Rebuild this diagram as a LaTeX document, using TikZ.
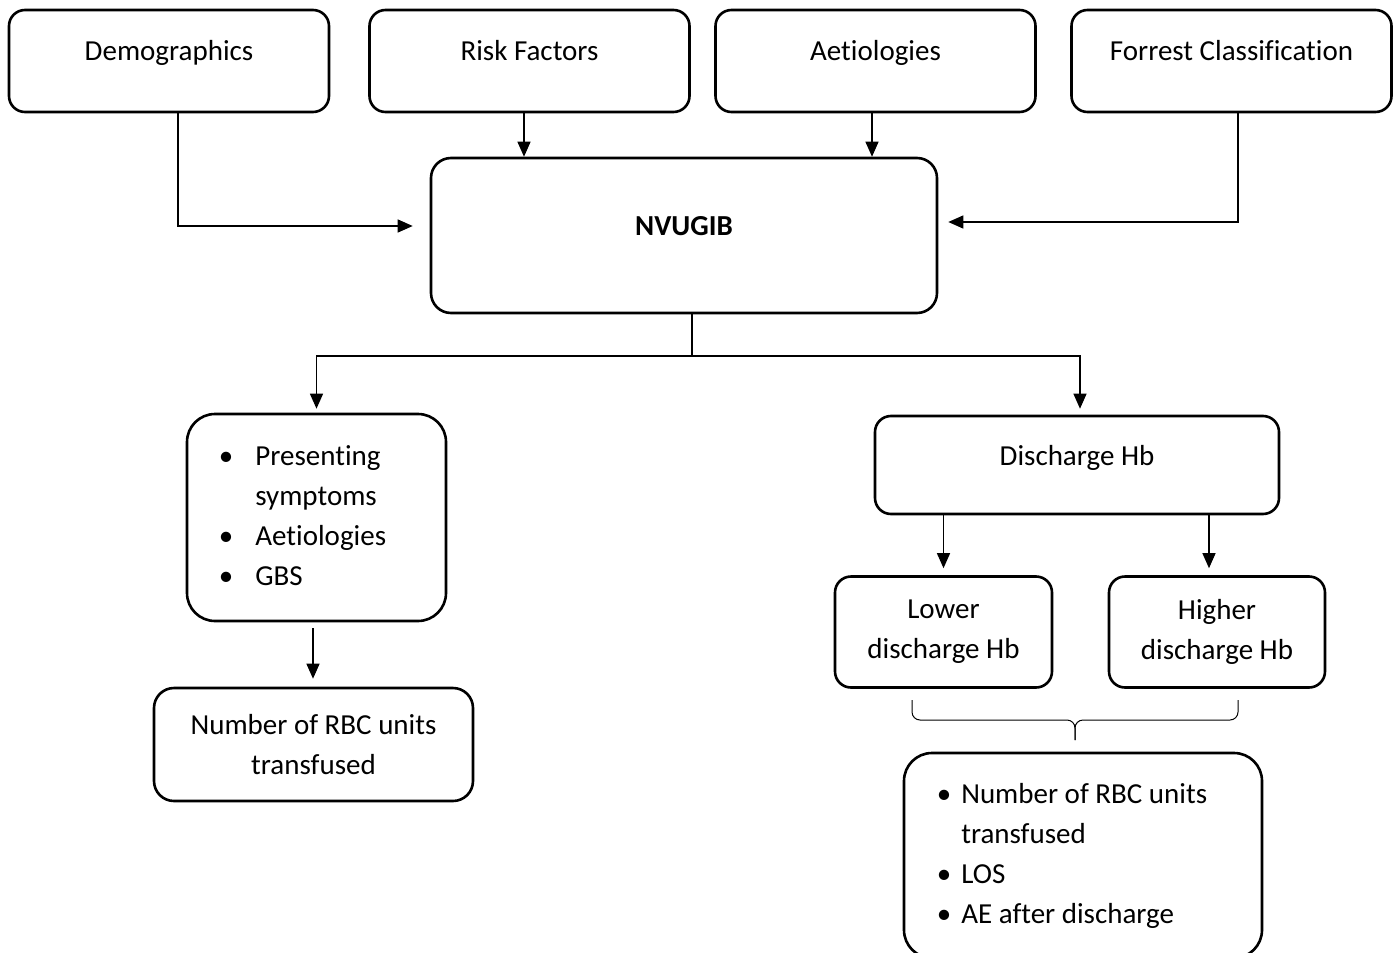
\documentclass[tikz,border=0pt]{standalone}
\usepackage{fontspec}
\setmainfont{Carlito}[Ligatures={NoCommon,NoRequired,NoContextual}]
\usepackage{tikz}
\usetikzlibrary{arrows.meta}
\usetikzlibrary{calc}
\usetikzlibrary{positioning}

\begin{document}
\begin{tikzpicture}[x=0.5pt, y=-0.5pt,
    font=\fontsize{14.5}{20}\selectfont,
    box/.style={draw=black, line width=1.3pt, rounded corners=8pt, align=center, inner sep=0pt},
    bigbox/.style={box, rounded corners=14pt},
    onerow/.style={text height=0.75em, text depth=0.75em},
    link/.style={line width=0.65pt, -{Triangle[length=7.5pt,width=6.5pt]}},
    bracket/.style={line width=0.5pt, rounded corners=4pt}]
    \useasboundingbox (0,0) rectangle (1398,953);
    \clip (0,0) rectangle (1398,953);
    % top row
    \node[box, onerow, minimum width=160pt, minimum height=51pt] (demo) at (169,61) {Demographics};
    \node[box, onerow, minimum width=160pt, minimum height=51pt] (risk) at (529.5,61) {Risk Factors};
    \node[box, onerow, minimum width=160pt, minimum height=51pt] (aetio) at (875.5,61) {Aetiologies};
    \node[box, onerow, minimum width=160pt, minimum height=51pt] (forrest) at (1231.5,61) {Forrest Classification};
    \node[box, onerow, rounded corners=10pt, minimum width=253pt, minimum height=77.5pt] (nvugib) at (684,235.5) {\textbf{NVUGIB}};
    % left branch
    \node[bigbox, minimum width=129.5pt, minimum height=103.5pt] (feat) at (316.5,517.5)
      {\begin{tabular}{@{}l@{\hspace{11pt}}l@{\hspace{14pt}}}
        \textbullet & Presenting\\
                    & symptoms\\
        \textbullet & Aetiologies\\
        \textbullet & GBS
      \end{tabular}};
    \node[box, rounded corners=10pt, minimum width=159.5pt, minimum height=56.5pt] (rbc) at (313.5,744.5) {Number of RBC units\\transfused};
    % right branch
    \node[box, onerow, minimum width=202pt, minimum height=49pt] (dhb) at (1077,465) {Discharge Hb};
    \node[box, minimum width=108.5pt, minimum height=55.5pt] (lower) at (943.5,632) {Lower\\discharge Hb};
    \node[box, minimum width=108pt, minimum height=55.5pt] (higher) at (1217,632) {Higher\\discharge Hb};
    \node[bigbox, minimum width=179pt, minimum height=102.5pt] (outc) at (1083,855.5)
      {\begin{tabular}{@{}l@{\hspace{5pt}}l@{\hspace{11pt}}}
        \textbullet & Number of RBC units\\
                    & transfused\\
        \textbullet & LOS\\
        \textbullet & AE after discharge
      \end{tabular}};
    % connectors
    \draw[link] ([xshift=4.5pt]demo.south) |- ([xshift=-8.5pt,yshift=4.75pt]nvugib.west);
    \path[link] ([xshift=-2.75pt]risk.south) edge ([xshift=-2.75pt]risk.south |- nvugib.north);
    \path[link] ([xshift=-1.75pt]aetio.south) edge ([xshift=-1.75pt]aetio.south |- nvugib.north);
    \draw[link] ([xshift=3.25pt]forrest.south) |- ([xshift=5pt,yshift=6.75pt]nvugib.east);
    \coordinate (fork) at (692,356);
    \draw[line width=0.65pt] (fork |- nvugib.south) -- (fork);
    \draw[link] (fork) -| ([yshift=2pt]feat.north);
    \draw[link] (fork) -| ([xshift=1.5pt,yshift=3pt]dhb.north);
    \path[link] ([xshift=-1.75pt,yshift=-3pt]feat.south) edge ([xshift=-0.25pt,yshift=4pt]rbc.north);
    \path[link] (dhb.south -| lower.north) edge ([yshift=3.5pt]lower.north);
    \path[link] ([xshift=-4pt]dhb.south -| higher.north) edge ([xshift=-4pt,yshift=3.5pt]higher.north);
    % bracket under the two Hb groups
    \coordinate (bl) at (912,700);
    \coordinate (br) at (1238,700);
    \coordinate (bm) at (1075,720);
    \coordinate (tip) at (1075,740);
    \draw[bracket] (bl) -- (bl |- bm) -- (bm) -- (tip);
    \draw[bracket] (br) -- (br |- bm) -- (bm) -- (tip);
\end{tikzpicture}
\end{document}
